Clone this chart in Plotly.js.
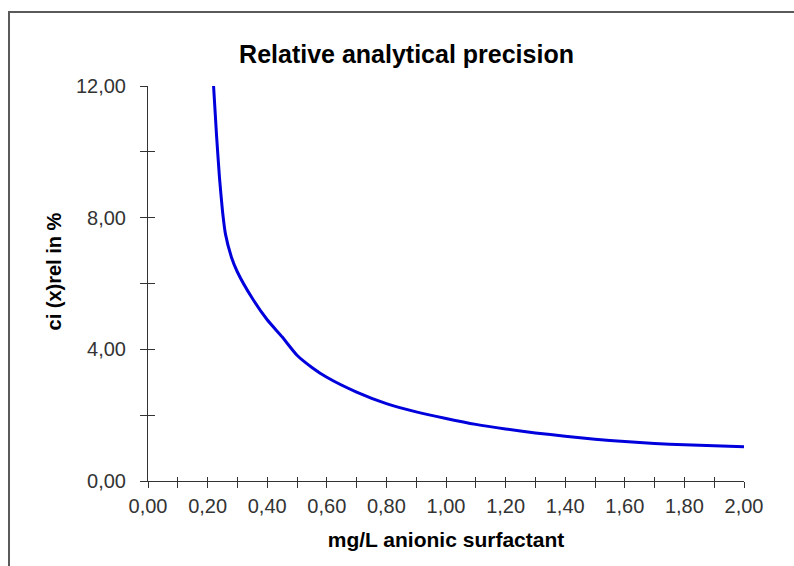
<!DOCTYPE html>
<html>
<head>
<meta charset="utf-8">
<script src="https://cdn.plot.ly/plotly-3.0.1.min.js"></script>
<style>
  html, body { margin: 0; padding: 0; background: #fff; }
  #wrap { position: relative; width: 794px; height: 566px; overflow: hidden; }
  #chart { position: absolute; left: 0; top: 0; width: 794px; height: 566px; }
  #frame { position: absolute; left: 8px; top: 11px; width: 800px; height: 600px;
           border-top: 2px solid #5a5a5a; border-left: 2px solid #5a5a5a; pointer-events: none; }
</style>
</head>
<body>
<div id="wrap">
  <div id="chart"></div>
  <div id="frame"></div>
</div>
<script>
// Concentration (mg/L anionic surfactant)
const concentration = [0.22, 0.23, 0.24, 0.25, 0.26, 0.28, 0.30, 0.35, 0.40, 0.45, 0.50, 0.55, 0.60,
                       0.70, 0.80, 0.90, 1.00, 1.10, 1.20, 1.30, 1.40, 1.50, 1.60, 1.70, 1.80, 1.90, 2.00];
// Relative confidence interval ci(x)rel in %
const ciRel = [12.0, 10.5, 9.2, 8.2, 7.5, 6.8, 6.35, 5.55, 4.9, 4.38, 3.82, 3.45, 3.15,
               2.7, 2.35, 2.1, 1.9, 1.72, 1.58, 1.46, 1.36, 1.27, 1.2, 1.14, 1.1, 1.07, 1.04];

const titleText = "Relative analytical precision";
const xTitle = "mg/L anionic surfactant";
const yTitle = "ci (x)rel in %";

const FONT = "Arial, 'Liberation Sans', sans-serif";

const trace = {
  x: concentration,
  y: ciRel,
  type: "scatter",
  mode: "lines",
  line: { color: "#0000dd", width: 3, shape: "spline", smoothing: 0.5 },
  hoverinfo: "skip",
  showlegend: false
};

const layout = {
  width: 794,
  height: 566,
  margin: { l: 148, r: 50, t: 86, b: 85 },
  paper_bgcolor: "#ffffff",
  plot_bgcolor: "#ffffff",
  separators: ", ",
  showlegend: false,
  title: {
    text: "<b>" + titleText + "</b>",
    font: { family: FONT, size: 25, color: "#000" },
    x: 0.512, xanchor: "center",
    y: 0.904, yanchor: "middle"
  },
  xaxis: {
    range: [0, 2],
    dtick: 0.2, tick0: 0,
    tickformat: ".2f",
    ticks: "outside", ticklen: 6, tickwidth: 1, tickcolor: "#333",
    minor: { dtick: 0.1, ticks: "outside", ticklen: 6, tickwidth: 1, tickcolor: "#333" },
    ticklabelstandoff: 1,
    showline: true, linecolor: "#333", linewidth: 1,
    showgrid: false, zeroline: false,
    tickfont: { family: FONT, size: 20, color: "#333" },
    title: { text: "<b>" + xTitle + "</b>", font: { family: FONT, size: 21, color: "#000" }, standoff: 16 }
  },
  xaxis2: {
    range: [0, 2], overlaying: "x", side: "bottom", anchor: "y",
    dtick: 0.1, tick0: 0, ticks: "inside", ticklen: 4, tickwidth: 1, tickcolor: "#333",
    showticklabels: false, showline: false, showgrid: false, zeroline: false
  },
  yaxis: {
    range: [0, 12],
    dtick: 4, tick0: 0,
    tickformat: ".2f",
    ticks: "outside", ticklen: 7, tickwidth: 1, tickcolor: "#333",
    minor: { dtick: 2, ticks: "outside", ticklen: 7, tickwidth: 1, tickcolor: "#333" },
    ticklabelstandoff: 10,
    showline: true, linecolor: "#333", linewidth: 1,
    showgrid: false, zeroline: false,
    tickfont: { family: FONT, size: 20, color: "#333" }
  },
  yaxis2: {
    range: [0, 12], overlaying: "y", side: "left", anchor: "x",
    dtick: 2, tick0: 0, ticks: "inside", ticklen: 7, tickwidth: 1, tickcolor: "#333",
    showticklabels: false, showline: false, showgrid: false, zeroline: false
  },
  annotations: [{
    text: "<b>" + yTitle + "</b>",
    xref: "paper", yref: "paper",
    x: -0.158, y: 0.53, xanchor: "center", yanchor: "middle",
    textangle: -90, showarrow: false,
    font: { family: FONT, size: 20, color: "#000" }
  }]
};

// empty helper traces that activate the overlay axes (crossing tick marks)
const axisHelperX = { x: [], y: [], xaxis: "x2", yaxis: "y", type: "scatter", hoverinfo: "skip", showlegend: false };
const axisHelperY = { x: [], y: [], xaxis: "x", yaxis: "y2", type: "scatter", hoverinfo: "skip", showlegend: false };

Plotly.newPlot("chart", [trace, axisHelperX, axisHelperY], layout, { staticPlot: true, displayModeBar: false });
</script>
</body>
</html>
